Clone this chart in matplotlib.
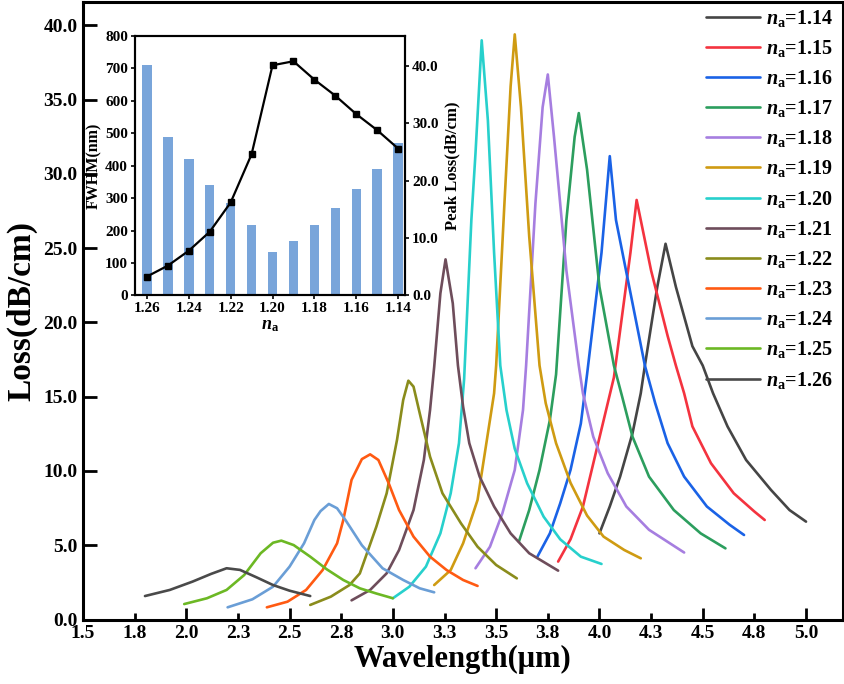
import matplotlib
matplotlib.use("Agg")
import matplotlib.pyplot as plt
from matplotlib.ticker import FixedLocator, FixedFormatter

plt.rcParams['font.family'] = ['Liberation Serif', 'DejaVu Serif']
plt.rcParams['font.weight'] = 'bold'
plt.rcParams['mathtext.fontset'] = 'custom'
plt.rcParams['mathtext.it'] = 'Liberation Serif:italic:bold'
plt.rcParams['mathtext.rm'] = 'Liberation Serif:bold'
plt.rcParams['mathtext.bf'] = 'Liberation Serif:bold'

# ---- loss spectra for each n_a ----
wl_114 = [4.00, 4.05, 4.10, 4.16, 4.20, 4.22, 4.28, 4.32, 4.37, 4.45, 4.50, 4.55, 4.62, 4.71, 4.83, 4.92, 5.00]
loss_114 = [5.80, 7.61, 9.62, 12.54, 15.23, 17.1, 22.4, 25.3, 22.4, 18.4, 17.1, 15.23, 13.0, 10.74, 8.73, 7.37, 6.59]

wl_115 = [3.80, 3.86, 3.92, 3.97, 4.02, 4.07, 4.15, 4.18, 4.25, 4.33, 4.37, 4.41, 4.45, 4.54, 4.65, 4.75, 4.80]
loss_115 = [3.90, 5.40, 7.60, 10.5, 13.4, 16.3, 24.7, 28.25, 23.5, 19.1, 17.1, 15.23, 13.0, 10.52, 8.50, 7.27, 6.70]

wl_116 = [3.70, 3.76, 3.81, 3.86, 3.91, 3.94, 4.01, 4.05, 4.08, 4.16, 4.22, 4.27, 4.33, 4.41, 4.52, 4.63, 4.70]
loss_116 = [4.24, 5.80, 7.82, 10.07, 13.2, 16.5, 24.7, 31.2, 26.9, 21.3, 17.1, 14.56, 11.87, 9.62, 7.61, 6.38, 5.69]

wl_117 = [3.61, 3.66, 3.71, 3.76, 3.79, 3.84, 3.88, 3.90, 3.94, 4.00, 4.07, 4.11, 4.16, 4.24, 4.36, 4.49, 4.61]
loss_117 = [5.24, 7.37, 10.07, 13.43, 16.5, 26.9, 32.5, 34.1, 30.3, 22.4, 17.1, 15.0, 12.31, 9.62, 7.37, 5.80, 4.79]

wl_118 = [3.40, 3.47, 3.53, 3.59, 3.63, 3.645, 3.69, 3.725, 3.75, 3.78, 3.84, 3.90, 3.92, 3.97, 4.04, 4.13, 4.24, 4.41]
loss_118 = [3.45, 4.90, 7.15, 10.07, 14.11, 17.1, 28.0, 34.5, 36.7, 32.5, 23.5, 17.1, 15.23, 12.31, 9.85, 7.61, 6.04, 4.51]

wl_119 = [3.20, 3.28, 3.34, 3.41, 3.45, 3.49, 3.50, 3.54, 3.57, 3.59, 3.62, 3.66, 3.71, 3.74, 3.79, 3.86, 3.94, 4.02, 4.12, 4.20]
loss_119 = [2.32, 3.33, 5.13, 8.05, 11.64, 15.23, 17.1, 28.0, 35.9, 39.4, 34.5, 25.8, 17.1, 14.56, 11.87, 9.2, 7.0, 5.58, 4.68, 4.12]

wl_120 = [3.00, 3.08, 3.16, 3.23, 3.28, 3.32, 3.345, 3.38, 3.40, 3.43, 3.46, 3.49, 3.52, 3.55, 3.59, 3.65, 3.73, 3.81, 3.91, 4.01]
loss_120 = [1.43, 2.21, 3.56, 5.80, 8.50, 11.87, 16.2, 26.9, 31.4, 39.0, 33.6, 24.7, 17.1, 14.1, 11.5, 9.17, 6.92, 5.40, 4.23, 3.74]

wl_121 = [2.80, 2.89, 2.97, 3.03, 3.10, 3.15, 3.18, 3.20, 3.23, 3.255, 3.29, 3.315, 3.34, 3.37, 3.42, 3.49, 3.57, 3.66, 3.80]
loss_121 = [1.29, 1.99, 3.11, 4.68, 7.37, 10.74, 14.11, 17.0, 21.96, 24.25, 21.29, 17.1, 14.33, 11.87, 9.62, 7.61, 5.80, 4.46, 3.29]

wl_122 = [2.60, 2.70, 2.79, 2.84, 2.92, 2.97, 3.02, 3.05, 3.075, 3.10, 3.13, 3.18, 3.24, 3.33, 3.41, 3.50, 3.60]
loss_122 = [0.98, 1.54, 2.32, 3.10, 6.25, 8.50, 12.09, 14.78, 16.08, 15.68, 13.89, 10.96, 8.50, 6.47, 4.90, 3.67, 2.77]

wl_123 = [2.39, 2.49, 2.58, 2.66, 2.73, 2.76, 2.80, 2.85, 2.89, 2.93, 2.98, 3.03, 3.10, 3.18, 3.26, 3.34, 3.41]
loss_123 = [0.82, 1.20, 1.99, 3.33, 5.13, 6.70, 9.40, 10.80, 11.12, 10.74, 9.17, 7.37, 5.58, 4.23, 3.33, 2.66, 2.26]

wl_124 = [2.20, 2.32, 2.42, 2.50, 2.57, 2.62, 2.65, 2.69, 2.73, 2.77, 2.85, 2.95, 3.05, 3.13, 3.20]
loss_124 = [0.82, 1.36, 2.21, 3.56, 5.13, 6.70, 7.30, 7.78, 7.49, 6.71, 5.00, 3.45, 2.66, 2.10, 1.83]

wl_125 = [1.99, 2.10, 2.195, 2.28, 2.36, 2.42, 2.46, 2.52, 2.60, 2.68, 2.76, 2.84, 2.92, 3.00]
loss_125 = [1.04, 1.43, 1.99, 2.99, 4.46, 5.17, 5.31, 5.01, 4.23, 3.38, 2.66, 2.10, 1.75, 1.43]

wl_126 = [1.80, 1.92, 2.03, 2.12, 2.195, 2.26, 2.34, 2.42, 2.50, 2.60]
loss_126 = [1.58, 1.99, 2.55, 3.07, 3.45, 3.34, 2.84, 2.32, 1.94, 1.58]

na_labels = ['1.14', '1.15', '1.16', '1.17', '1.18', '1.19', '1.20',
             '1.21', '1.22', '1.23', '1.24', '1.25', '1.26']
line_colors = ['#454545', '#f4333f', '#1a62e6', '#2c9e5e', '#a67ee0', '#cf9b12', '#27d0cc',
               '#6e4d5b', '#8a8c1c', '#ff5a12', '#6a9ed6', '#6cb824', '#4a4a4a']

# ---- inset: FWHM and peak loss vs n_a ----
na_values = [1.26, 1.25, 1.24, 1.23, 1.22, 1.21, 1.20, 1.19, 1.18, 1.17, 1.16, 1.15, 1.14]
fwhm_nm = [711, 488, 420, 340, 284, 217, 134, 167, 218, 269, 329, 391, 470]
peak_loss = [3.3, 5.2, 7.8, 11.1, 16.2, 24.6, 40.1, 40.8, 37.6, 34.8, 31.6, 28.8, 25.6]

x_major = [1.5, 2.0, 2.5, 3.0, 3.5, 4.0, 4.5, 5.0]
x_major_lbl = ['1.5', '2.0', '2.5', '3.0', '3.5', '4.0', '4.5', '5.0']
x_minor = [1.75, 2.25, 2.75, 3.25, 3.75, 4.25, 4.75]
x_minor_lbl = ['1.8', '2.3', '2.8', '3.3', '3.8', '4.3', '4.8']
y_ticks = [0, 5, 10, 15, 20, 25, 30, 35, 40]
y_tick_lbl = ['0.0', '5.0', '10.0', '15.0', '20.0', '25.0', '30.0', '35.0', '40.0']

series = [(wl_114, loss_114), (wl_115, loss_115), (wl_116, loss_116), (wl_117, loss_117),
          (wl_118, loss_118), (wl_119, loss_119), (wl_120, loss_120), (wl_121, loss_121),
          (wl_122, loss_122), (wl_123, loss_123), (wl_124, loss_124), (wl_125, loss_125),
          (wl_126, loss_126)]

fig = plt.figure(figsize=(8.45, 6.84), dpi=100)
ax = fig.add_axes([83/845, 64.5/684, 760/845, 617.5/684])

for (wl, loss), lbl, col in zip(series, na_labels, line_colors):
    ax.plot(wl, loss, color=col, lw=1.9, solid_joinstyle='round', solid_capstyle='round',
            label=r'$n_{\mathrm{a}}$=' + lbl)

ax.set_xlim(1.5, 5.179)
ax.set_ylim(0, 41.58)
ax.xaxis.set_major_locator(FixedLocator(x_major))
ax.xaxis.set_major_formatter(FixedFormatter(x_major_lbl))
ax.xaxis.set_minor_locator(FixedLocator(x_minor))
ax.xaxis.set_minor_formatter(FixedFormatter(x_minor_lbl))
ax.yaxis.set_major_locator(FixedLocator(y_ticks))
ax.yaxis.set_major_formatter(FixedFormatter(y_tick_lbl))
ax.tick_params(axis='x', which='major', direction='in', length=9, width=2, labelsize=14, pad=4)
ax.tick_params(axis='x', which='minor', direction='in', length=5, width=2, labelsize=14, pad=4)
ax.tick_params(axis='y', direction='in', length=10, width=2, labelsize=14, pad=4)
for s in ax.spines.values():
    s.set_linewidth(2.2)
ax.set_xlabel('Wavelength(μm)', fontsize=22, fontweight='bold', labelpad=2)
ax.set_ylabel('Loss(dB/cm)', fontsize=24, fontweight='bold', labelpad=4)

ax.legend(loc='upper right', bbox_to_anchor=(1.0, 1.0072), frameon=False, fontsize=14.5,
          handlelength=2.7, handletextpad=0.3, labelspacing=0.455, borderaxespad=0.1)

# inset
ins = fig.add_axes([135/845, (684-295.5)/684, 270/845, 259.5/684])
ins.set_facecolor('none')
ins.bar(na_values, fwhm_nm, width=0.0045, color='#6a9bd6', alpha=0.9, zorder=1)
ins.set_xlim(1.2657, 1.1367)
ins.set_ylim(0, 800)
ins.set_yticks([0, 100, 200, 300, 400, 500, 600, 700, 800])
ins.set_xticks([1.26, 1.24, 1.22, 1.20, 1.18, 1.16, 1.14])
ins.set_xticklabels(['1.26', '1.24', '1.22', '1.20', '1.18', '1.16', '1.14'])
ins.tick_params(labelsize=11, length=3, width=1.2, pad=2)
ins.set_ylabel('FWHM(nm)', fontsize=11.5, fontweight='bold', labelpad=2)
ins.set_xlabel(r'$n_{\mathrm{a}}$', fontsize=13, labelpad=1)
for s in ins.spines.values():
    s.set_linewidth(1.5)

ins2 = ins.twinx()
ins2.plot(na_values, peak_loss, color='black', lw=1.6, marker='s', markersize=4)
ins2.set_ylim(0, 45.2)
ins2.set_yticks([0, 10, 20, 30, 40])
ins2.set_yticklabels(['0.0', '10.0', '20.0', '30.0', '40.0'])
ins2.tick_params(labelsize=11, length=3, width=1.2, pad=2)
ins2.set_ylabel('Peak Loss(dB/cm)', fontsize=12, fontweight='bold', labelpad=4)
for s in ins2.spines.values():
    s.set_linewidth(1.5)

fig.savefig('out.png', dpi=100)
